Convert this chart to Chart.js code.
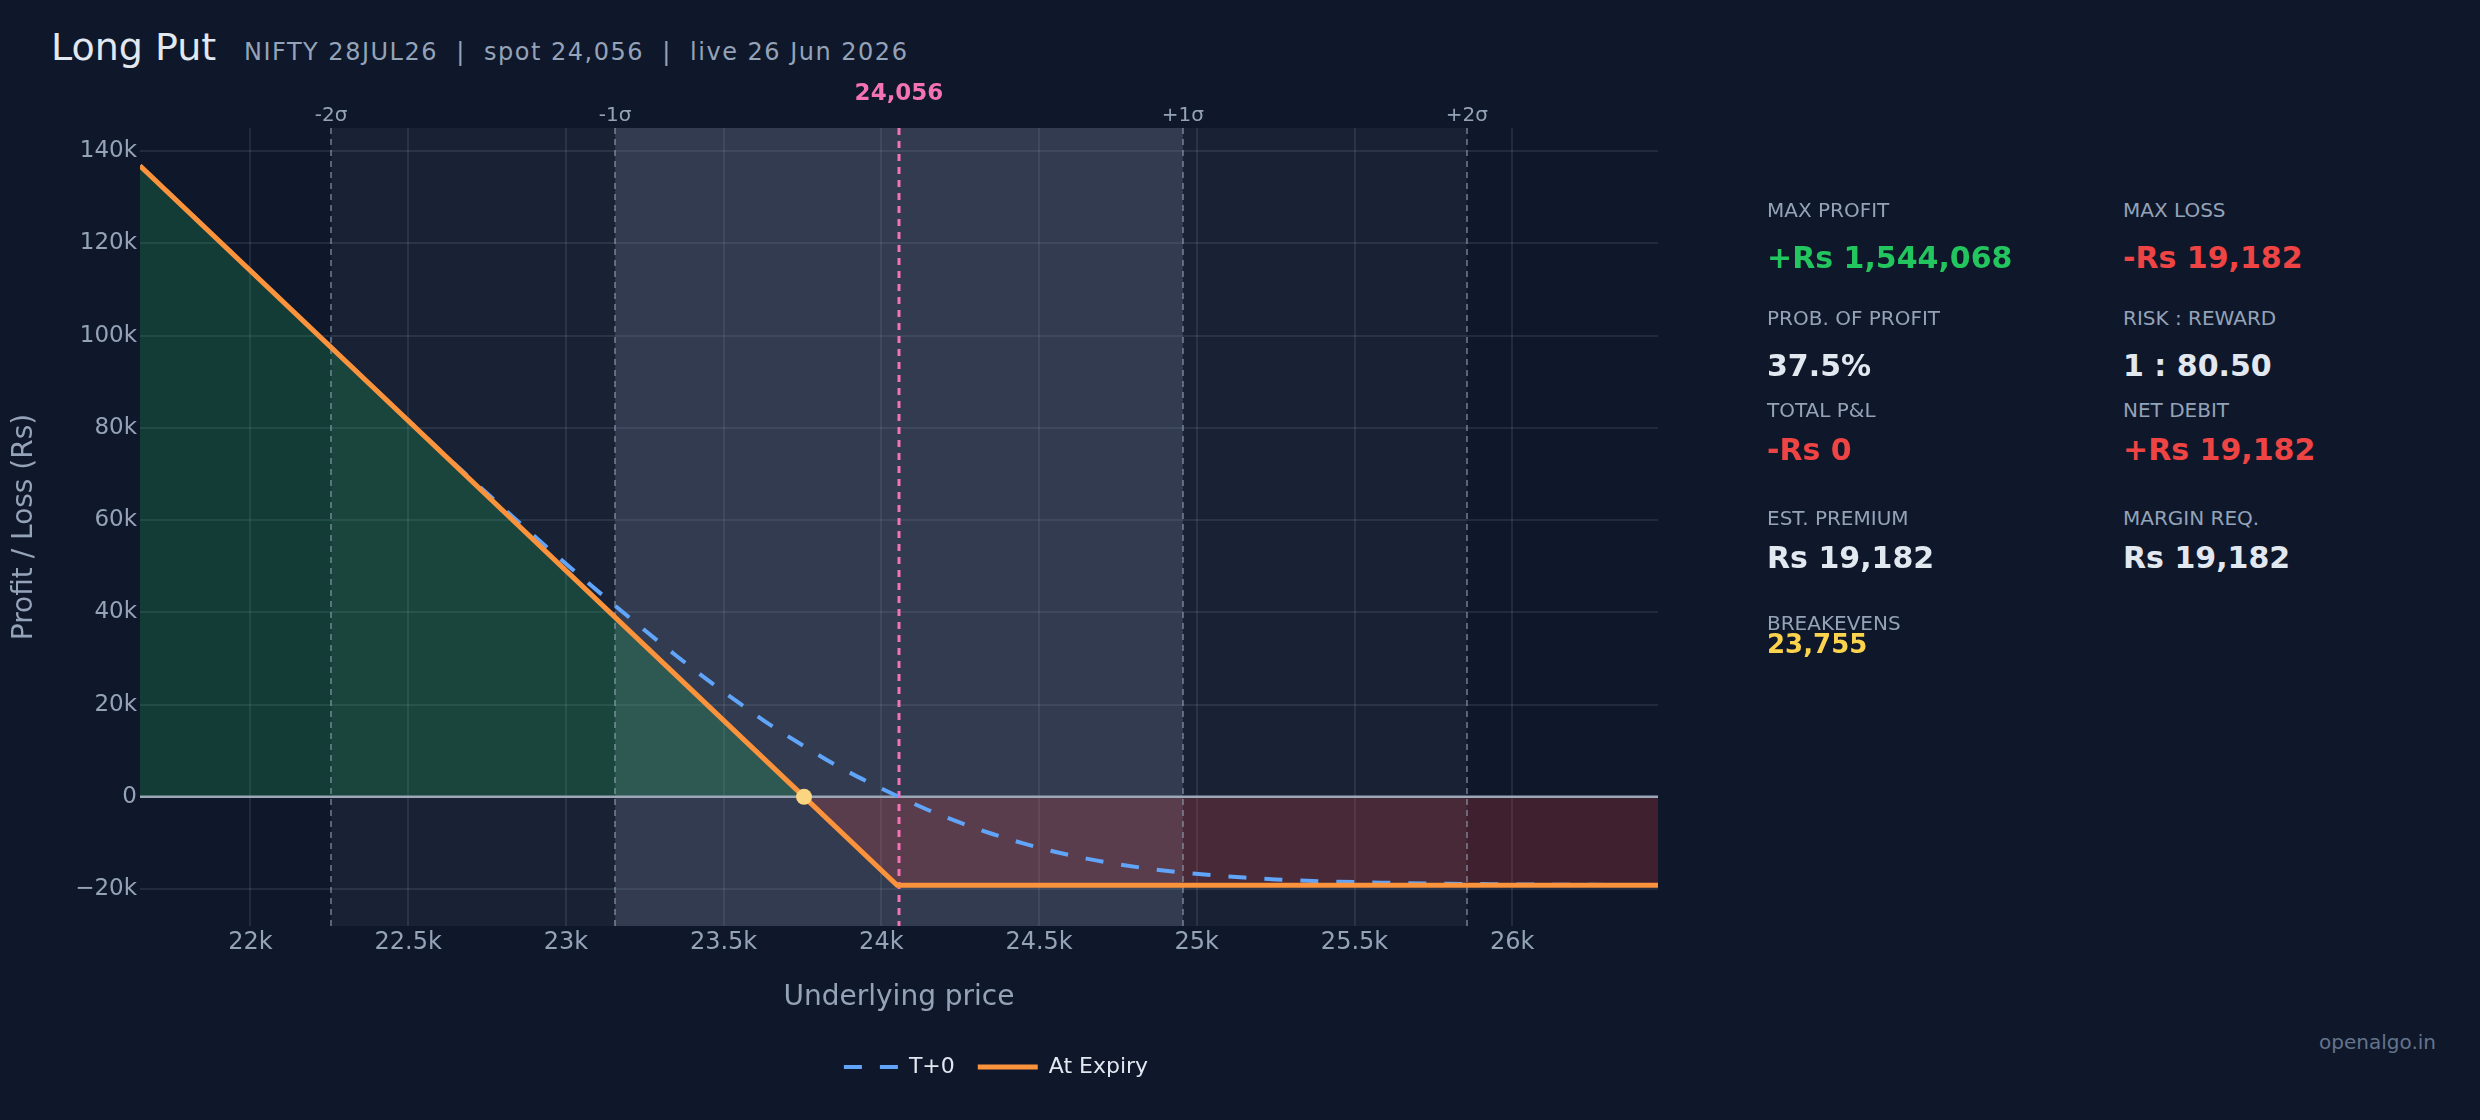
<!DOCTYPE html>
<html>
<head>
<meta charset="utf-8">
<title>Long Put payoff</title>
<script src="https://cdn.jsdelivr.net/npm/chart.js@4.4.1/dist/chart.umd.min.js"></script>
<style>
  body { margin: 0; background: #0f172a; width: 2480px; height: 1120px; overflow: hidden; position: relative; font-family: "DejaVu Sans", sans-serif; }
  #wrap { position: absolute; left: 0; top: 0; width: 1986px; height: 1120px; }
  .t { position: absolute; white-space: nowrap; line-height: 1; }
  .lbl { font-size: 20px; color: #94a3b8; }
  .val { font-size: 30px; font-weight: bold; color: #e2e8f0; }
</style>
</head>
<body>
<div class="t" style="left:51px;top:28px;font-size:38px;color:#e2e8f0">Long Put</div>
<div class="t" style="left:244px;top:40px;font-size:24px;color:#94a3b8;letter-spacing:1.5px">NIFTY 28JUL26 &nbsp;|&nbsp; spot 24,056 &nbsp;|&nbsp; live 26 Jun 2026</div>

<div id="wrap"><canvas id="grafica" width="1986" height="1120"></canvas></div>

<!-- panel de estadisticas -->
<div class="t lbl" style="left:1767px;top:200px">MAX PROFIT</div>
<div class="t val" style="left:1767px;top:243px;color:#22c55e">+Rs 1,544,068</div>
<div class="t lbl" style="left:2123px;top:200px">MAX LOSS</div>
<div class="t val" style="left:2123px;top:243px;color:#ef4444">-Rs 19,182</div>

<div class="t lbl" style="left:1767px;top:308px">PROB. OF PROFIT</div>
<div class="t val" style="left:1767px;top:351px">37.5%</div>
<div class="t lbl" style="left:2123px;top:308px">RISK : REWARD</div>
<div class="t val" style="left:2123px;top:351px">1 : 80.50</div>

<div class="t lbl" style="left:1767px;top:400px">TOTAL P&amp;L</div>
<div class="t val" style="left:1767px;top:435px;color:#ef4444">-Rs 0</div>
<div class="t lbl" style="left:2123px;top:400px">NET DEBIT</div>
<div class="t val" style="left:2123px;top:435px;color:#ef4444">+Rs 19,182</div>

<div class="t lbl" style="left:1767px;top:508px">EST. PREMIUM</div>
<div class="t val" style="left:1767px;top:543px">Rs 19,182</div>
<div class="t lbl" style="left:2123px;top:508px">MARGIN REQ.</div>
<div class="t val" style="left:2123px;top:543px">Rs 19,182</div>

<div class="t lbl" style="left:1767px;top:613px">BREAKEVENS</div>
<div class="t val" style="left:1767px;top:631px;font-size:26px;color:#fcd34d">23,755</div>

<div class="t" style="right:44px;top:1032px;font-size:20px;color:#64748b">openalgo.in</div>

<script>
// Datos
const spot = 24056;
const xRange = [21650, 26462];
const yRange = [-28000, 145000];
const xTicks = [22000, 22500, 23000, 23500, 24000, 24500, 25000, 25500, 26000];
const yTicks = [-20000, 0, 20000, 40000, 60000, 80000, 100000, 120000, 140000];
const sigmaPrices = [22256, 23156, 24956, 25856];
const sigmaLabels = ['-2σ', '-1σ', '+1σ', '+2σ'];
const breakevens = [23755];

// Al vencimiento
const expiryPrice = [21650, 23755, 24050, 26462];
const expiryPnl = [136800, 0, -19182, -19182];

// Curva T+0
const tPlusPrice = [21650, 21800, 22000, 22200, 22400, 22550, 22650, 22750, 22850, 22950,
    23050, 23150, 23250, 23350, 23450, 23550, 23650, 23750, 23850, 23950,
    24056, 24150, 24250, 24350, 24450, 24550, 24650, 24750, 24850, 24950,
    25050, 25150, 25250, 25350, 25450, 25550, 25650, 25800, 25950, 26100,
    26250, 26462];
const tPlusPnl = [136800, 127100, 114100, 101100, 88100, 78400, 72000, 65800, 59600, 53500,
    47600, 41800, 36100, 30600, 25300, 20300, 15500, 11200, 7100, 3500,
    0, -2900, -5600, -8000, -10100, -11900, -13400, -14600, -15600, -16400,
    -17000, -17500, -17900, -18200, -18400, -18550, -18700, -18850, -18950, -19030,
    -19080, -19120];

const gridColor = 'rgba(148,163,184,0.14)';
const textColor = '#94a3b8';

Chart.defaults.font.family = '"DejaVu Sans", sans-serif';

// Bandas sigma, lineas y etiquetas superiores
const bandas = {
    id: 'bandas',
    beforeDraw(chart) {
        const { ctx, chartArea: a, scales: { x } } = chart;
        const banda = (v0, v1, color) => {
            const p0 = x.getPixelForValue(v0);
            const p1 = x.getPixelForValue(v1);
            ctx.fillStyle = color;
            ctx.fillRect(p0, a.top, p1 - p0, a.bottom - a.top);
        };
        ctx.save();
        banda(sigmaPrices[0], sigmaPrices[3], 'rgba(148,163,184,0.08)');
        banda(sigmaPrices[1], sigmaPrices[2], 'rgba(148,163,184,0.2)');
        ctx.restore();
    },
    beforeDatasetsDraw(chart) {
        const { ctx, chartArea: a, scales: { x, y } } = chart;
        ctx.save();
        // linea cero
        const y0 = y.getPixelForValue(0);
        ctx.strokeStyle = '#9ca8b8';
        ctx.lineWidth = 2.5;
        ctx.beginPath();
        ctx.moveTo(a.left, y0);
        ctx.lineTo(a.right, y0);
        ctx.stroke();
        // lineas sigma
        ctx.strokeStyle = 'rgba(148,163,184,0.55)';
        ctx.lineWidth = 2;
        ctx.setLineDash([6, 5]);
        sigmaPrices.forEach(p => {
            const px = Math.round(x.getPixelForValue(p));
            ctx.beginPath();
            ctx.moveTo(px, a.top);
            ctx.lineTo(px, a.bottom);
            ctx.stroke();
        });
        // linea spot
        ctx.strokeStyle = '#f472b6';
        ctx.lineWidth = 3;
        ctx.setLineDash([7, 6]);
        const sx = x.getPixelForValue(spot);
        ctx.beginPath();
        ctx.moveTo(sx, a.top);
        ctx.lineTo(sx, a.bottom);
        ctx.stroke();
        ctx.restore();
    },
    afterDraw(chart) {
        const { ctx, scales: { x } } = chart;
        ctx.save();
        ctx.textAlign = 'center';
        ctx.textBaseline = 'alphabetic';
        ctx.fillStyle = textColor;
        ctx.font = '20px "DejaVu Sans", sans-serif';
        sigmaPrices.forEach((p, i) => {
            ctx.fillText(sigmaLabels[i], x.getPixelForValue(p), 121);
        });
        ctx.fillStyle = '#f472b6';
        ctx.font = 'bold 23px "DejaVu Sans", sans-serif';
        ctx.fillText(spot.toLocaleString('en-US'), x.getPixelForValue(spot), 100);
        ctx.restore();
    }
};

const ctx = document.getElementById('grafica').getContext('2d');

const grafica = new Chart(ctx, {
    type: 'line',
    data: {
        datasets: [{
            label: 'T+0',
            data: tPlusPrice.map((p, i) => ({ x: p, y: tPlusPnl[i] })),
            borderColor: '#60a5fa',
            borderWidth: 4,
            borderDash: [18, 18],
            pointRadius: 0,
            cubicInterpolationMode: 'monotone',
            fill: false,
            order: 2
        }, {
            label: 'At Expiry',
            data: expiryPrice.map((p, i) => ({ x: p, y: expiryPnl[i] })),
            borderColor: '#fb923c',
            borderWidth: 5,
            pointRadius: 0,
            tension: 0,
            fill: {
                target: 'origin',
                above: 'rgba(34,197,94,0.22)',
                below: 'rgba(239,68,68,0.22)'
            },
            order: 1
        }, {
            type: 'scatter',
            label: 'Breakeven',
            data: breakevens.map(b => ({ x: b, y: 0 })),
            pointRadius: 8,
            backgroundColor: '#fcd581',
            borderColor: '#fcd581',
            borderWidth: 0,
            order: 0
        }]
    },
    options: {
        responsive: false,
        animation: false,
        events: [],
        layout: {
            padding: { left: 0, right: 0, top: 128, bottom: 32 }
        },
        plugins: {
            filler: { drawTime: 'beforeDatasetsDraw' },
            tooltip: { enabled: false },
            legend: {
                display: true,
                position: 'bottom',
                align: 'center',
                labels: {
                    color: '#e2e8f0',
                    font: { size: 22 },
                    usePointStyle: true,
                    pointStyle: 'line',
                    pointStyleWidth: 60,
                    padding: 23,
                    filter: item => item.datasetIndex !== 2,
                    sort: (a, b) => a.datasetIndex - b.datasetIndex,
                    generateLabels(chart) {
                        const items = Chart.defaults.plugins.legend.labels.generateLabels(chart);
                        return items.map(it => {
                            const ds = chart.data.datasets[it.datasetIndex];
                            it.lineDash = ds.borderDash || [];
                            it.lineDashOffset = ds.borderDash ? 30 : 0;
                            it.lineWidth = ds.borderWidth;
                            it.strokeStyle = ds.borderColor;
                            return it;
                        });
                    }
                }
            }
        },
        scales: {
            x: {
                type: 'linear',
                position: 'bottom',
                min: xRange[0],
                max: xRange[1],
                grid: { color: gridColor, lineWidth: 2, drawTicks: false },
                border: { display: false },
                afterBuildTicks(s) { s.ticks = xTicks.map(v => ({ value: v })); },
                ticks: {
                    color: textColor,
                    font: { size: 24 },
                    padding: 2,
                    maxRotation: 0,
                    autoSkip: false,
                    callback: v => (v / 1000) + 'k'
                },
                title: {
                    display: true,
                    text: 'Underlying price',
                    color: textColor,
                    font: { size: 28 },
                    padding: { top: 0, bottom: 18 }
                },
                afterFit(s) { s.height = 107; }
            },
            y: {
                type: 'linear',
                position: 'left',
                min: yRange[0],
                max: yRange[1],
                grid: { color: gridColor, lineWidth: 2, drawTicks: false },
                border: { display: false },
                afterBuildTicks(s) { s.ticks = yTicks.map(v => ({ value: v })); },
                ticks: {
                    color: textColor,
                    font: { size: 23 },
                    padding: 3,
                    autoSkip: false,
                    callback: v => v === 0 ? '0' : (v < 0 ? '\u2212' : '') + Math.abs(v) / 1000 + 'k'
                },
                title: {
                    display: true,
                    text: 'Profit / Loss (Rs)',
                    color: textColor,
                    font: { size: 28 },
                    padding: { top: 8, bottom: 0 }
                },
                afterFit(s) { s.width = 140; }
            },
            // eje vacio a la derecha para dejar sitio al panel
            y2: {
                type: 'linear',
                position: 'right',
                display: true,
                grid: { display: false },
                border: { display: false },
                ticks: { display: false },
                afterFit(s) { s.width = 328; }
            }
        }
    },
    plugins: [bandas]
});
</script>
</body>
</html>
